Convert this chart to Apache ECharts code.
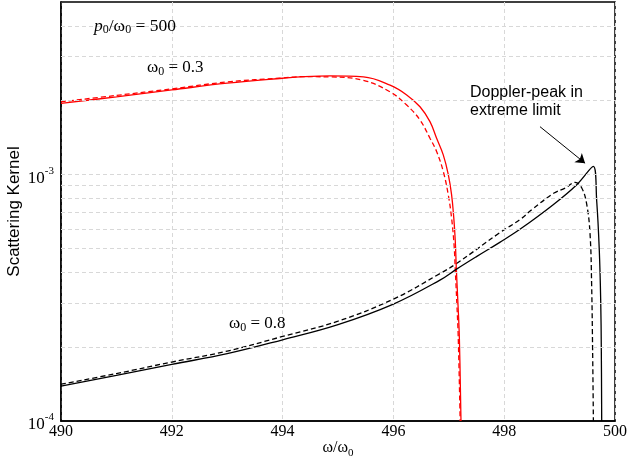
<!DOCTYPE html>
<html>
<head>
<meta charset="utf-8">
<script src="https://cdn.jsdelivr.net/npm/echarts@6/dist/echarts.min.js"></script>
<style>html,body{margin:0;padding:0;background:#fff}#c{width:629px;height:468px}</style>
</head>
<body>
<div id="c"></div>
<script>
// ---- data ----
const xMin = 490, xMax = 500, xStep = 2;
const yMin = 1e-4, yMax = 5e-3;
const yGridValues = [2e-4, 3e-4, 4e-4, 5e-4, 6e-4, 7e-4, 8e-4, 9e-4, 1e-3, 2e-3, 3e-3, 4e-3];

// omega0 = 0.3, solid (red)
const redSolidX = [490, 491, 492, 493, 494, 494.4, 494.86, 495.46, 495.94, 496.24, 496.48, 496.66, 496.78, 496.9, 496.99, 497.05, 497.09, 497.117, 497.135, 497.165, 497.19, 497.22];
const redSolidY = [1.94e-3, 2.063e-3, 2.20e-3, 2.343e-3, 2.454e-3, 2.49e-3, 2.507e-3, 2.484e-3, 2.30e-3, 2.10e-3, 1.88e-3, 1.636e-3, 1.40e-3, 1.20e-3, 1.0e-3, 8.28e-4, 6.66e-4, 5.37e-4, 4.19e-4, 3.0e-4, 2.2e-4, 1.0e-4];
// omega0 = 0.3, dashed (red)
const redDashX = [490, 491, 492, 493, 494, 494.35, 494.86, 495.45, 495.94, 496.24, 496.48, 496.66, 496.78, 496.9, 496.99, 497.05, 497.094, 497.115, 497.145, 497.17, 497.205];
const redDashY = [1.97e-3, 2.09e-3, 2.222e-3, 2.37e-3, 2.461e-3, 2.49e-3, 2.484e-3, 2.409e-3, 2.161e-3, 1.91e-3, 1.662e-3, 1.401e-3, 1.238e-3, 1.028e-3, 8.28e-4, 6.66e-4, 5.22e-4, 4.2e-4, 3.0e-4, 2.2e-4, 1.0e-4];
// omega0 = 0.8, solid (black)
const blackSolidX = [490, 491, 492, 493, 494, 495, 496, 496.84, 497.14, 497.5, 497.92, 498.29, 498.89, 499.31, 499.608, 499.67, 499.717, 499.742, 499.753, 499.76];
const blackSolidY = [1.384e-4, 1.53e-4, 1.697e-4, 1.875e-4, 2.135e-4, 2.46e-4, 2.98e-4, 3.727e-4, 4.128e-4, 4.64e-4, 5.3e-4, 6.0e-4, 7.55e-4, 9.08e-4, 1.077e-3, 7.78e-4, 4.89e-4, 3.07e-4, 1.93e-4, 1.0e-4];
// omega0 = 0.8, dashed (black)
const blackDashX = [490, 491, 492, 493, 494, 495, 496, 496.84, 497.14, 497.92, 498.29, 498.5, 498.9, 499.1, 499.28, 499.4, 499.49, 499.55, 499.578, 499.596, 499.61];
const blackDashY = [1.41e-4, 1.557e-4, 1.734e-4, 1.92e-4, 2.202e-4, 2.54e-4, 3.12e-4, 3.96e-4, 4.35e-4, 5.8e-4, 6.57e-4, 7.2e-4, 8.4e-4, 8.8e-4, 9.28e-4, 8.81e-4, 7.55e-4, 5.71e-4, 3.59e-4, 1.93e-4, 1.0e-4];
// annotation arrow (data coordinates)
const arrowFrom = [498.646, 1.561e-3];
const arrowTo = [499.46, 1.11e-3];

const pairs = (xs, ys) => xs.map((x, i) => [x, ys[i]]);
const SERIF = 'Liberation Serif';
const SANS = 'Liberation Sans';

const chart = echarts.init(document.getElementById('c'), null, {renderer: 'canvas'});

const subRich = (color, size) => ({
  m: {fontFamily: SERIF, fontSize: size, color: color, lineHeight: 14, verticalAlign: 'top'},
  i: {fontFamily: SERIF, fontSize: size, color: color, fontStyle: 'italic', lineHeight: 14, verticalAlign: 'top'},
  s: {fontFamily: SERIF, fontSize: Math.round(size * 0.7), color: color, lineHeight: 26}
});

const lineSeries = (name, xs, ys, color, dashed, extra) => Object.assign({
  name: name,
  type: 'line',
  data: pairs(xs, ys),
  showSymbol: false,
  symbol: 'none',
  smooth: 0.4,
  clip: true,
  lineStyle: {color: color, width: 1.3, type: dashed ? [5, 3] : 'solid'},
  z: 3
}, extra || {});

const option = {
  animation: false,
  backgroundColor: '#fff',
  grid: {left: 61, right: 14, top: 2, bottom: 47, show: true, borderColor: '#000', borderWidth: 1.5,
         backgroundColor: 'transparent', containLabel: false, outerBoundsMode: 'none'},
  xAxis: {
    type: 'value', min: xMin, max: xMax, interval: xStep,
    name: '{m|ω/ω}{s|0}', nameLocation: 'middle', nameGap: 19, nameMoveOverlap: false,
    nameTextStyle: {rich: subRich('#000', 16)},
    axisLine: {show: true, lineStyle: {color: '#000', width: 1.5}},
    axisTick: {show: false},
    axisLabel: {fontFamily: SERIF, fontSize: 16, color: '#000', margin: 3},
    splitLine: {show: true, lineStyle: {color: '#d8d8d8', type: [4, 3], width: 1}}
  },
  yAxis: {
    type: 'log', logBase: 10, min: yMin, max: yMax,
    name: 'Scattering Kernel', nameLocation: 'middle', nameGap: 38, nameMoveOverlap: false,
    nameTextStyle: {fontFamily: SANS, fontSize: 17, color: '#000'},
    axisLine: {show: true, lineStyle: {color: '#000', width: 1.5}},
    axisTick: {show: false},
    axisLabel: {
      margin: 7,
      padding: [8, 0, 0, 0],
      formatter: function (v) {
        const l = Math.log10(v), e = Math.round(l);
        if (Math.abs(l - e) < 1e-6) return '{b|10}{p|' + e + '}';
        return '';
      },
      rich: {
        b: {fontFamily: SERIF, fontSize: 17, color: '#000', lineHeight: 26},
        p: {fontFamily: SERIF, fontSize: 11, color: '#000', lineHeight: 12, verticalAlign: 'top'}
      }
    },
    splitLine: {show: false}
  },
  series: [
    lineSeries('w08 dashed', blackDashX, blackDashY, '#000', true, {
      z: 2,
      markLine: {
        silent: true, symbol: ['none', 'none'], label: {show: false},
        lineStyle: {color: '#d8d8d8', type: [4, 3], width: 1},
        data: yGridValues.map(v => [{coord: [xMin, v]}, {coord: [xMax, v]}])
      }
    }),
    lineSeries('w03 solid', redSolidX, redSolidY, '#ff0000', false),
    lineSeries('w03 dashed', redDashX, redDashY, '#ff0000', true),
    lineSeries('w08 solid', blackSolidX, blackSolidY, '#000', false, {
      markLine: {
        silent: true, symbol: ['none', 'arrow'], symbolSize: 9,
        label: {show: false},
        lineStyle: {color: '#000', width: 1, type: 'solid'},
        data: [[{coord: arrowFrom}, {coord: arrowTo}]]
      }
    })
  ],
  graphic: [
    {type: 'text', x: 94, y: 17, silent: true, z: 10, style: {
      text: '{i|p}{s|0}{m|/ω}{s|0}{m| = 500}', rich: subRich('#000', 17.5), verticalAlign: 'top'}},
    {type: 'text', x: 147, y: 59, silent: true, z: 10, style: {
      text: '{m|ω}{s|0}{m| = 0.3}', rich: subRich('#ff0000', 17), verticalAlign: 'top'}},
    {type: 'text', x: 229, y: 315, silent: true, z: 10, style: {
      text: '{m|ω}{s|0}{m| = 0.8}', rich: subRich('#000', 17), verticalAlign: 'top'}},
    {type: 'text', x: 470, y: 84, silent: true, z: 10, style: {
      text: 'Doppler-peak in\nextreme limit', fontFamily: SANS, fontSize: 16, lineHeight: 18, fill: '#000', verticalAlign: 'top'}}
  ]
};
chart.setOption(option);
</script>
</body>
</html>
